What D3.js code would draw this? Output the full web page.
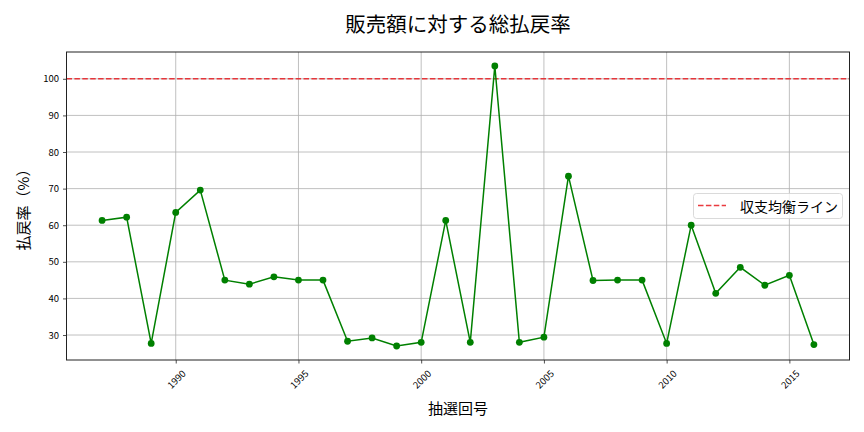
<!DOCTYPE html>
<html><head><meta charset="utf-8">
<script src="https://cdn.jsdelivr.net/npm/d3@7"></script>
<style>
body{margin:0;background:#fff;}
text{font-family:"Noto Sans CJK JP","Noto Sans",sans-serif;}
</style></head>
<body><svg id="c" width="864" height="432"></svg>
<script>
const years = [1987,1988,1989,1990,1991,1992,1993,1994,1995,1996,1997,1998,1999,2000,2001,2002,2003,2004,2005,2006,2007,2008,2009,2010,2011,2012,2013,2014,2015,2016];
const rates = [61.3,62.2,27.7,63.5,69.6,45.0,43.9,45.9,45.0,45.0,28.3,29.2,27.0,28.0,61.3,28.0,103.5,28.0,29.4,73.4,44.9,45.0,45.0,27.7,60.0,41.4,48.5,43.6,46.3,27.4];
const xTicks = [1990,1995,2000,2005,2010,2015];
const yTicks = [30,40,50,60,70,80,90,100];
const breakEven = 100;
const title = "販売額に対する総払戻率";
const xLabel = "抽選回号";
const yLabel = "払戻率（%）";
const legendLabel = "収支均衡ライン";

const svg = d3.select("#c");
const L=66.5, R=849.5, T=52, B=360;
const xr = d3.extent(years), yr=[d3.min(rates), d3.max(rates)];
const xp=(xr[1]-xr[0])*0.05, yp=(yr[1]-yr[0])*0.05;
const x = d3.scaleLinear().domain([xr[0]-xp, xr[1]+xp]).range([L,R]);
const y = d3.scaleLinear().domain([yr[0]-yp, yr[1]+yp]).range([B,T]);

// grid
const g = svg.append("g");
g.selectAll(".gx").data(xTicks).enter().append("line")
 .attr("x1",d=>x(d)).attr("x2",d=>x(d)).attr("y1",T).attr("y2",B)
 .attr("stroke","#b0b0b0").attr("stroke-width",0.8);
g.selectAll(".gy").data(yTicks).enter().append("line")
 .attr("x1",L).attr("x2",R).attr("y1",d=>y(d)).attr("y2",d=>y(d))
 .attr("stroke","#b0b0b0").attr("stroke-width",0.8);

// axes
const xa = svg.append("g").attr("transform",`translate(0,${B})`)
 .call(d3.axisBottom(x).tickValues(xTicks).tickSize(3.5).tickFormat(d3.format("d")));
xa.select(".domain").remove();
xa.selectAll("line").attr("stroke","#222").attr("stroke-width",0.8);
xa.selectAll("text").attr("font-size",9.5).attr("fill","#000")
 .attr("text-anchor","middle").attr("dominant-baseline","central")
 .attr("x",0).attr("y",0).attr("dy",null)
 .attr("transform","translate(0,19) rotate(-45)");

const ya = svg.append("g").attr("transform",`translate(${L},0)`)
 .call(d3.axisLeft(y).tickValues(yTicks).tickSize(3.5).tickPadding(4));
ya.select(".domain").remove();
ya.selectAll("line").attr("stroke","#222").attr("stroke-width",0.8);
ya.selectAll("text").attr("font-size",9.5).attr("fill","#000");

// break-even line
svg.append("line").attr("x1",L).attr("x2",R).attr("y1",y(breakEven)).attr("y2",y(breakEven))
 .attr("stroke","#e8262b").attr("stroke-width",1.5).attr("stroke-dasharray","5.5,2.4").attr("opacity",0.9);

// data line
const line = d3.line().x((d,i)=>x(years[i])).y(d=>y(d));
svg.append("path").datum(rates).attr("d",line).attr("fill","none")
 .attr("stroke","#008000").attr("stroke-width",1.5);
svg.selectAll(".pt").data(rates).enter().append("circle")
 .attr("cx",(d,i)=>x(years[i])).attr("cy",d=>y(d)).attr("r",3.4).attr("fill","#008000");

// frame
svg.append("rect").attr("x",L).attr("y",T).attr("width",R-L).attr("height",B-T)
 .attr("fill","none").attr("stroke","#222").attr("stroke-width",1);

// legend
const lg = svg.append("g");
lg.append("rect").attr("x",693.5).attr("y",193.5).attr("width",149).attr("height",25).attr("rx",3)
 .attr("fill","#fff").attr("fill-opacity",0.8).attr("stroke","#d0d0d0").attr("stroke-width",0.8);
lg.append("line").attr("x1",698).attr("x2",726).attr("y1",205.5).attr("y2",205.5)
 .attr("stroke","#e8262b").attr("stroke-width",1.5).attr("stroke-dasharray","5.5,2.4").attr("opacity",0.9);
lg.append("text").attr("x",740).attr("y",206).attr("dominant-baseline","central")
 .attr("font-size",14).attr("fill","#000").text(legendLabel);

// titles
svg.append("text").attr("x",(L+R)/2).attr("y",23).attr("text-anchor","middle").attr("dominant-baseline","central")
 .attr("font-size",20.5).attr("fill","#000").text(title);
svg.append("text").attr("x",(L+R)/2).attr("y",407).attr("text-anchor","middle").attr("dominant-baseline","central")
 .attr("font-size",15).attr("fill","#000").text(xLabel);
svg.append("text").attr("transform",`translate(22,${(T+B)/2}) rotate(-90)`).attr("text-anchor","middle").attr("dominant-baseline","central")
 .attr("font-size",15).attr("fill","#000").text(yLabel);
</script></body></html>
